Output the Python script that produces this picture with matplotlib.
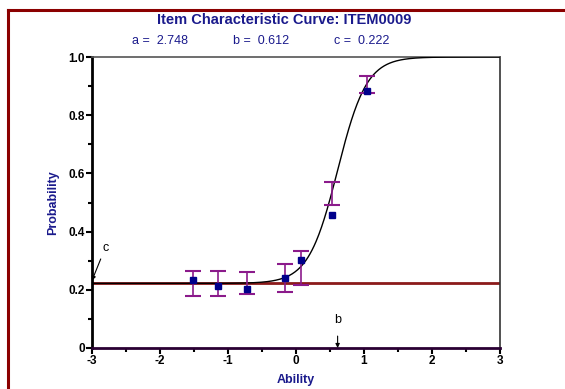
import numpy as np
import matplotlib
matplotlib.use("Agg")
import matplotlib.pyplot as plt
from matplotlib.lines import Line2D

plt.rcParams['font.family'] = ['Liberation Sans', 'DejaVu Sans']

# Item parameters
a_param = 2.748
b_param = 0.612
c_param = 0.222

# Observed proportions
ability = [-1.51, -1.15, -0.72, -0.16, 0.07, 0.53, 1.04]
observed = [0.234, 0.213, 0.203, 0.240, 0.302, 0.456, 0.883]
err_low = [0.180, 0.180, 0.185, 0.193, 0.216, 0.491, 0.875]
err_high = [0.265, 0.265, 0.260, 0.289, 0.333, 0.571, 0.936]

x_ticks = [-3, -2, -1, 0, 1, 2, 3]
y_ticks = [0, 0.2, 0.4, 0.6, 0.8, 1.0]
y_ticklabels = ["0", "0.2", "0.4", "0.6", "0.8", "1.0"]

navy = "#1a1a8c"

fig = plt.figure(figsize=(5.65, 3.89), dpi=100)
ax = fig.add_axes([92/565, 1-348/389, 408/565, 291/389])

# Frame border (dark red)
fig.add_artist(Line2D([8/565, 8/565], [0, 1-10/389], color="#8b0000", lw=2.2, transform=fig.transFigure))
fig.add_artist(Line2D([8/565, 1], [1-10/389, 1-10/389], color="#8b0000", lw=2.2, transform=fig.transFigure))

# Model curve
xs = np.linspace(-3, 3, 600)
ps = c_param + (1 - c_param) / (1 + np.exp(-1.7 * a_param * (xs - b_param)))
ax.plot(xs, ps, color="black", lw=1.0, zorder=3)

# c line
ax.axhline(c_param, color="#8b1a1a", lw=2.0, zorder=2)

# Error bars
mid = [(l + h) / 2 for l, h in zip(err_low, err_high)]
yerr = [[m - l for m, l in zip(mid, err_low)], [h - m for h, m in zip(err_high, mid)]]
ax.errorbar(ability, mid, yerr=yerr, fmt="none", ecolor="#8b1a8b", elinewidth=1.2,
            capsize=5.5, capthick=1.5, zorder=4)

# Observed points
ax.plot(ability, observed, "s", color="#00008b", markersize=5, zorder=5)

ax.set_xlim(-3, 3)
ax.set_ylim(0, 1.0)
ax.set_xticks(x_ticks)
ax.set_xticklabels([str(t) for t in x_ticks])
ax.set_xticks(np.arange(-3, 3.01, 0.5), minor=True)
ax.set_yticks(y_ticks)
ax.set_yticklabels(y_ticklabels)
ax.set_yticks(np.arange(0, 1.01, 0.1), minor=True)
for lab in ax.get_xticklabels() + ax.get_yticklabels():
    lab.set_fontweight("bold")
    lab.set_fontsize(8.5)
ax.tick_params(axis="both", which="major", length=4, width=1.5, pad=1)
ax.tick_params(axis="both", which="minor", length=3, width=1.5)

ax.spines["left"].set_linewidth(2)
ax.spines["left"].set_color("black")
ax.spines["bottom"].set_linewidth(2)
ax.spines["bottom"].set_color("#2a0033")
ax.spines["top"].set_color("#555555")
ax.spines["top"].set_linewidth(1.2)
ax.spines["right"].set_color("#333333")
ax.spines["right"].set_linewidth(1.2)

ax.set_xlabel("Ability", fontsize=9, fontweight="bold", color=navy, labelpad=5)
ax.set_ylabel("Probability", fontsize=9, fontweight="bold", color=navy, labelpad=7)

# Annotations
ax.annotate("c", xy=(-3, c_param + 0.01), xytext=(-2.85, 0.345), fontsize=9,
            ha="left", va="center",
            arrowprops=dict(arrowstyle="-|>", color="black", lw=0.8, mutation_scale=6,
                            shrinkA=2, shrinkB=0))
ax.annotate("b", xy=(b_param, 0), xytext=(b_param, 0.095), fontsize=9,
            ha="center", va="center",
            arrowprops=dict(arrowstyle="-|>", color="black", lw=0.8, mutation_scale=6,
                            shrinkA=5, shrinkB=0))

fig.text(284/565, 1-20/389, "Item Characteristic Curve: ITEM0009", ha="center", va="center",
         fontsize=10.5, fontweight="bold", color=navy)
fig.text(160/565, 1-41/389, "a =  %.3f" % a_param, ha="center", va="center", fontsize=9, color=navy)
fig.text(261/565, 1-41/389, "b =  %.3f" % b_param, ha="center", va="center", fontsize=9, color=navy)
fig.text(362/565, 1-41/389, "c =  %.3f" % c_param, ha="center", va="center", fontsize=9, color=navy)

fig.savefig("out.png", dpi=100)
